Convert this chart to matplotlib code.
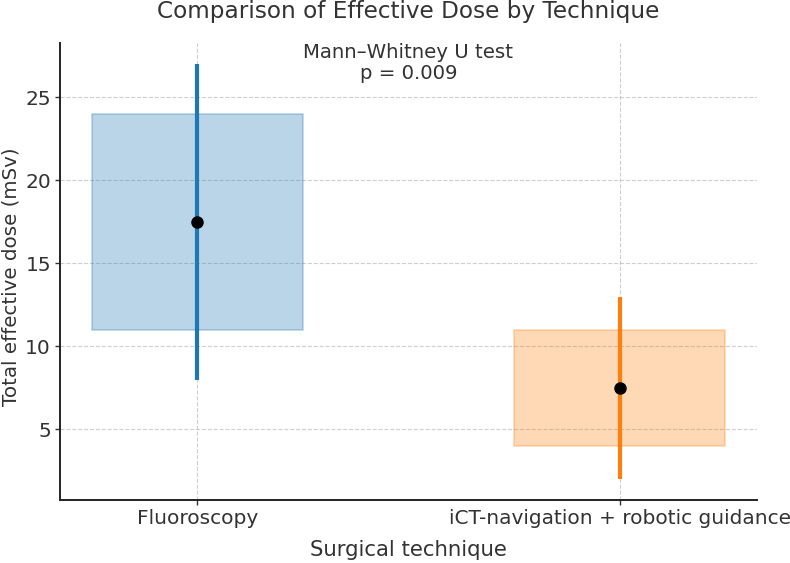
import numpy as np
import matplotlib.pyplot as plt

techniques = ["Fluoroscopy", "iCT-navigation + robotic guidance"]
box_low = [11, 4]
box_high = [24, 11]
whisk_low = [8, 2]
whisk_high = [27, 13]
median = [17.5, 7.5]
colors = ["#1f77b4", "#ff7f0e"]

plt.rcParams["text.color"] = "#333333"
plt.rcParams["axes.labelcolor"] = "#333333"
plt.rcParams["xtick.color"] = "#333333"
plt.rcParams["ytick.color"] = "#333333"

fig, ax = plt.subplots(figsize=(7.9, 5.63), dpi=100)
x = np.arange(len(techniques))
heights = np.array(box_high) - np.array(box_low)
ax.bar(x, heights, bottom=box_low, width=0.5, color=colors, alpha=0.3,
       edgecolor=colors, linewidth=1.2)
for i in x:
    ax.vlines(i, whisk_low[i], whisk_high[i], color=colors[i], linewidth=3)
ax.plot(x, median, "o", color="black", markersize=8, zorder=5)

ax.set_xticks(x)
ax.set_xticklabels(techniques, fontsize=14.5)
ax.tick_params(axis="y", labelsize=14.5)
ax.tick_params(length=3.5, width=1.0, pad=3)
ax.set_xlabel("Surgical technique", fontsize=15.3, labelpad=9)
ax.set_ylabel("Total effective dose (mSv)", fontsize=14.3)
ax.yaxis.set_label_coords(-0.057, 0.49)
ax.set_title("Comparison of Effective Dose by Technique", fontsize=16.7, pad=18)
ax.text(0.5, 1.0, "Mann\u2013Whitney U test\np = 0.009", transform=ax.transAxes,
        ha="center", va="top", fontsize=14.2, linespacing=1.1)
ax.grid(True, linestyle="--", alpha=0.6)
ax.set_axisbelow(True)
ax.spines["top"].set_visible(False)
ax.spines["right"].set_visible(False)
for s in ("left", "bottom"):
    ax.spines[s].set_linewidth(1.4)
    ax.spines[s].set_color("#222222")
fig.subplots_adjust(left=0.076, right=0.958, top=0.923, bottom=0.112)
fig.savefig("out.png", dpi=100)
